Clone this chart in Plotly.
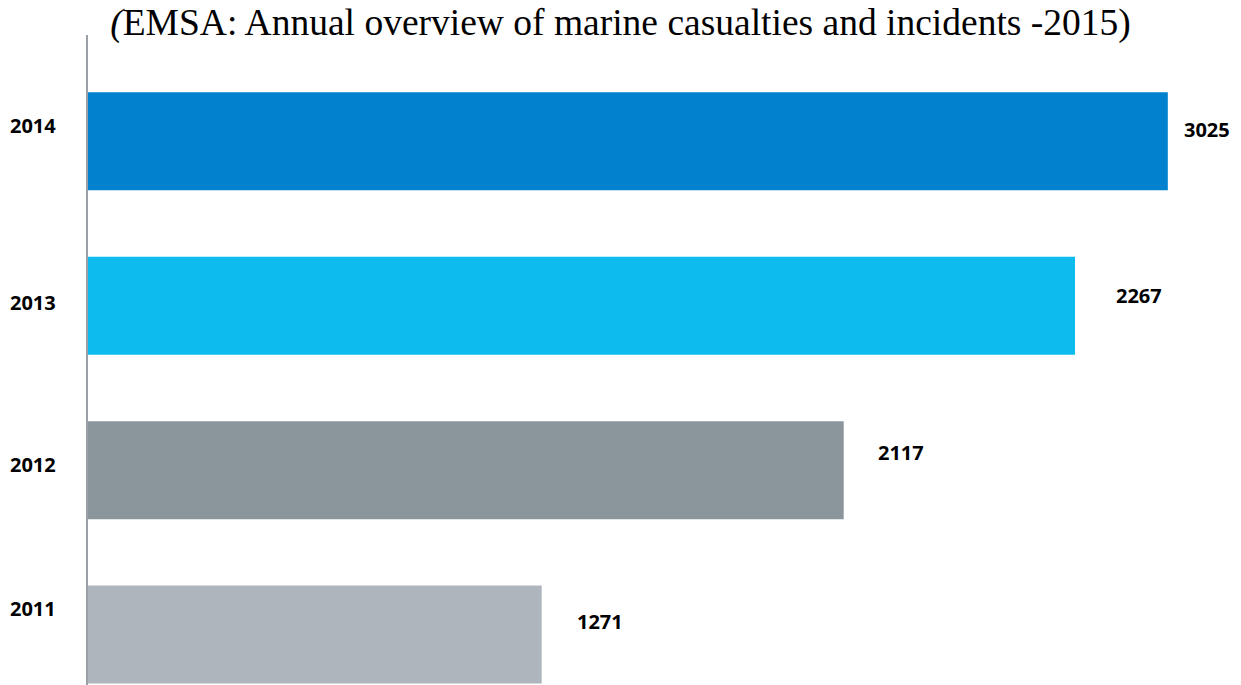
import plotly.graph_objects as go

# ---- data ----
years = ["2011", "2012", "2013", "2014"]
labels = [1271, 2117, 2267, 3025]          # printed value labels
bar_lengths = [1271, 2117, 2765, 3025]     # lengths as drawn in the reference
colors = ["#AEB5BD", "#8B969C", "#0DBBEE", "#0282CE"]
title_text = "<i>(</i>EMSA: Annual overview of marine casualties and incidents -2015)"

# small per-label nudges (layout styling, pixels)
year_label_dy = [26, 6, 3, 16]
value_label_dx = [33, 32, 39, 14]
value_label_dy = [13, 18, 10, 12]

fig = go.Figure()
fig.add_trace(go.Bar(
    y=years, x=bar_lengths, orientation="h",
    marker=dict(color=colors, line=dict(width=0)),
    width=0.596, hoverinfo="skip",
))

annotations = []
for i, (yr, val, ln) in enumerate(zip(years, labels, bar_lengths)):
    annotations.append(dict(
        x=0, xref="paper", y=i, yref="y", text=f"<b>{yr}</b>",
        xanchor="right", yanchor="middle", xshift=-30, yshift=year_label_dy[i],
        showarrow=False, font=dict(family="Open Sans", size=20, color="#000000"),
    ))
    annotations.append(dict(
        x=ln, xref="x", y=i, yref="y", text=f"<b>{val}</b>",
        xanchor="left", yanchor="middle", xshift=value_label_dx[i], yshift=value_label_dy[i],
        showarrow=False, font=dict(family="Open Sans", size=20, color="#000000"),
    ))

fig.update_layout(
    width=1241, height=685,
    margin=dict(l=88, r=0, t=35, b=0),
    paper_bgcolor="white", plot_bgcolor="white",
    showlegend=False,
    title=dict(text=title_text, x=0.5, xref="container", xanchor="center",
               y=1 - 22 / 685, yref="container", yanchor="middle",
               font=dict(family="Liberation Serif", size=37.5, color="#000000")),
    xaxis=dict(range=[0, 3230], visible=False, fixedrange=True),
    yaxis=dict(type="category", categoryorder="array", categoryarray=years,
               range=[-0.307, 3.647], showticklabels=False, ticks="",
               showgrid=False, zeroline=False, showline=True,
               linecolor="#9BA1A6", linewidth=2),
    annotations=annotations,
)

fig.write_html("out.html")
